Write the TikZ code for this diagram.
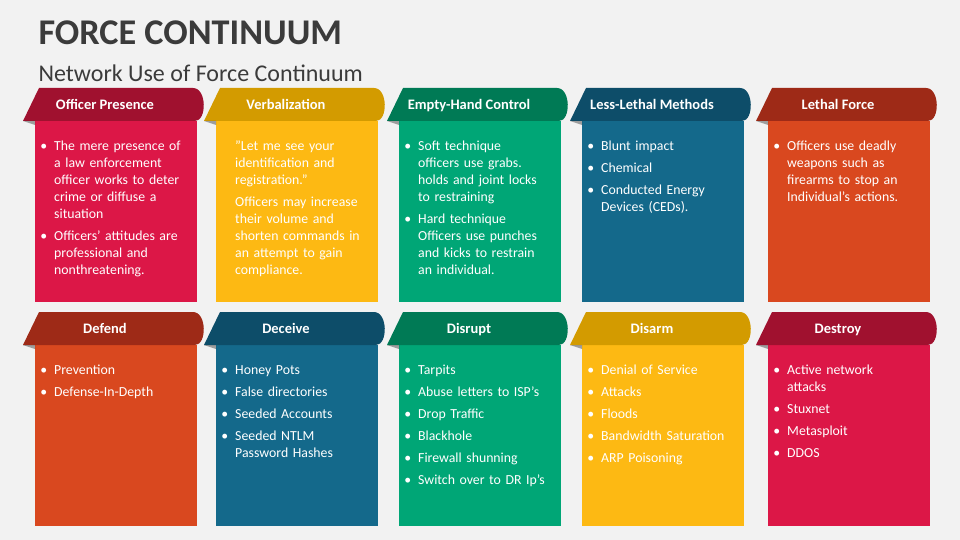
\documentclass[tikz,border=0pt]{standalone}
\usepackage{fontspec}
\setmainfont{Carlito}
\usepackage{enumitem}
\usetikzlibrary{positioning}
\definecolor{bgcol}{HTML}{F2F2F2}
\definecolor{titlecol}{HTML}{3B3B3B}
\definecolor{redD}{HTML}{A0112F}\definecolor{redL}{HTML}{DC1747}
\definecolor{yelD}{HTML}{D39B00}\definecolor{yelL}{HTML}{FDB913}
\definecolor{grnD}{HTML}{007A55}\definecolor{grnL}{HTML}{00A676}
\definecolor{bluD}{HTML}{0D4D69}\definecolor{bluL}{HTML}{14698B}
\definecolor{orgD}{HTML}{9E2A17}\definecolor{orgL}{HTML}{D9481F}
\tikzset{%
    cardhead/.style={font=\bfseries\fontsize{14.5}{16}\selectfont,text=white,anchor=base},
    cardtext/.style={anchor=north west,text=white,text width=142.5pt,inner sep=0pt,
      font=\fontsize{13.8}{17}\selectfont},
  }
\setlist[itemize]{leftmargin=14pt,labelsep=7pt,itemsep=5pt,topsep=0pt,parsep=0pt,partopsep=0pt}
% #1 name, #2 x, #3 top y, #4 body height, #5 dark, #6 light, #7 title, #8 items
\newcommand\forcecard[8]{%
  \fill[#6] (#2,-#3-33) rectangle ++(162,-#4);
  \fill[#5] (#2-12,-#3-33) -- (#2+4,-#3) -- (#2+158,-#3)
    .. controls (#2+172,-#3) and (#2+172,-#3-33) .. (#2+160,-#3-33) -- cycle;
  \fill[black,opacity=0.35] (#2-12,-#3-33) -- (#2,-#3-33) -- (#2,-#3-37) -- cycle;
  \node[cardhead] (#1h) at (#2+70,-#3-21.5) {#7};
  \node[cardtext] (#1t) at (#2+5,-#3-45) {\begin{itemize}#8\end{itemize}};
}
\begin{document}
\begin{tikzpicture}[x=1pt,y=1pt]
  \fill[bgcol] (0,0) rectangle (960,-540);
  \useasboundingbox (0,0) rectangle (960,-540);
  \node[anchor=west,text=titlecol,font=\bfseries\fontsize{36.2}{40}\selectfont] (title) at (35,-33) {FORCE CONTINUUM};
  \node[anchor=west,text=titlecol,font=\fontsize{24}{26}\selectfont] (subtitle) at (35,-73) {Network Use of Force Continuum};
  %
  \forcecard{pres}{35}{88}{181}{redD}{redL}{Officer Presence}{%
    \item The mere presence of a law enforcement officer works to deter crime or diffuse a situation
    \item Officers' attitudes are professional and nonthreatening.}
  \forcecard{verb}{216}{88}{181}{yelD}{yelL}{Verbalization}{%
    \item[] "Let me see your identification and registration."
    \item[] Officers may increase their volume and shorten commands in an attempt to gain compliance.}
  \forcecard{hand}{399}{88}{181}{grnD}{grnL}{Empty-Hand Control}{%
    \item Soft technique officers use grabs. holds and joint locks to restraining
    \item Hard technique Officers use punches and kicks to restrain an individual.}
  \forcecard{less}{582}{88}{181}{bluD}{bluL}{Less-Lethal Methods}{%
    \item Blunt impact
    \item Chemical
    \item Conducted Energy Devices (CEDs).}
  \forcecard{leth}{768}{88}{181}{orgD}{orgL}{Lethal Force}{%
    \item Officers use deadly weapons such as firearms to stop an Individual's actions.}
  %
  \forcecard{defe}{35}{312}{181}{orgD}{orgL}{Defend}{%
    \item Prevention
    \item Defense-In-Depth}
  \forcecard{dece}{216}{312}{181}{bluD}{bluL}{Deceive}{%
    \item Honey Pots
    \item False directories
    \item Seeded Accounts
    \item Seeded NTLM Password Hashes}
  \forcecard{disr}{399}{312}{181}{grnD}{grnL}{Disrupt}{%
    \item Tarpits
    \item Abuse letters to ISP's
    \item Drop Traffic
    \item Blackhole
    \item Firewall shunning
    \item Switch over to DR Ip's}
  \forcecard{disa}{582}{312}{181}{yelD}{yelL}{Disarm}{%
    \item Denial of Service
    \item Attacks
    \item Floods
    \item Bandwidth Saturation
    \item ARP Poisoning}
  \forcecard{dest}{768}{312}{181}{redD}{redL}{Destroy}{%
    \item Active network attacks
    \item Stuxnet
    \item Metasploit
    \item DDOS}
\end{tikzpicture}
\end{document}
